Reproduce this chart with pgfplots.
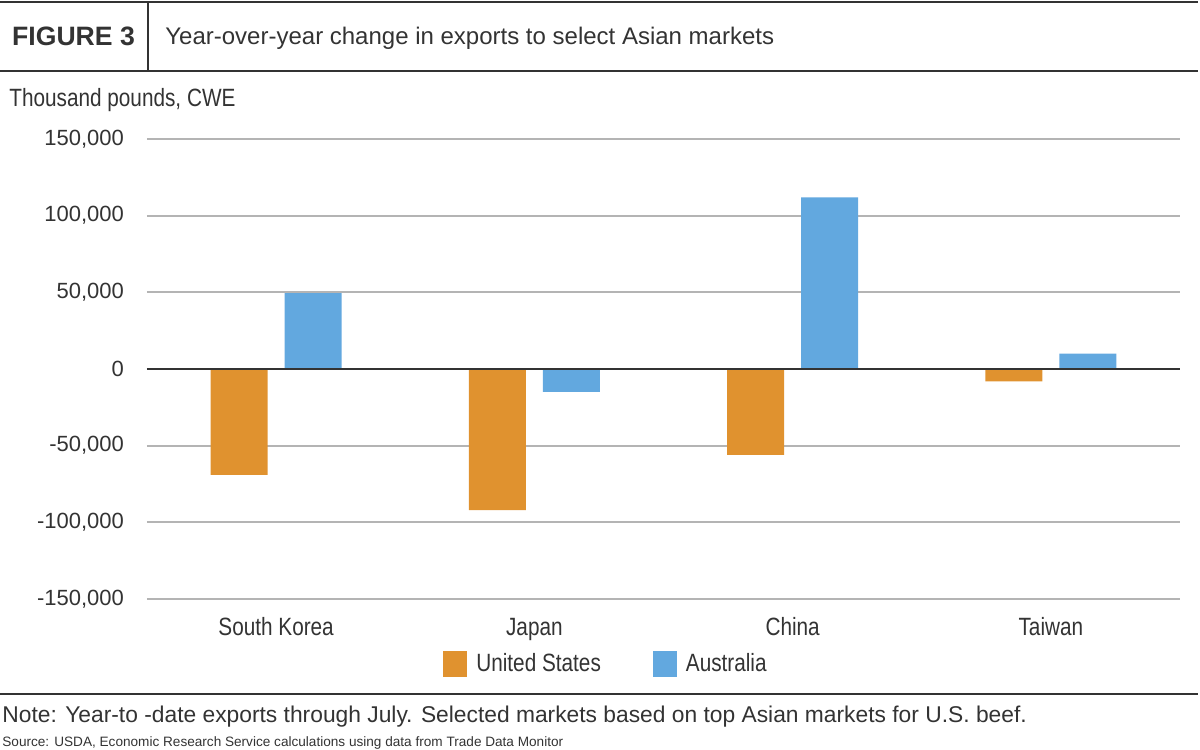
\documentclass[border=0pt]{standalone}
\usepackage{fontspec}
\setmainfont{Liberation Sans}
\newfontfamily\cf[FakeStretch=0.83]{Liberation Sans}
\usepackage{pgfplots}
\pgfplotsset{compat=1.18}
\definecolor{usor}{HTML}{E0922F}
\definecolor{aubl}{HTML}{62A8DF}
\definecolor{gridg}{HTML}{B4B4B4}
\definecolor{darkl}{HTML}{333333}
\begin{document}
\begin{tikzpicture}
\path[use as bounding box] (0,0) rectangle (600pt,375pt);
\begin{scope}[x=0.5pt,y=-0.5pt,shift={(0,375pt)}]
  \draw[darkl, line width=1.3pt] (0,2) -- (1198,2);
  \draw[darkl, line width=1.1pt] (0,71) -- (1198,71);
  \draw[darkl, line width=0.6pt] (148,2) -- (148,71);
  \draw[darkl, line width=1.1pt] (0,694) -- (1198,694);
  \node[anchor=base, inner sep=0pt, font=\fontsize{13.3}{16}\selectfont\bfseries, text=darkl] at (73.5,45.5) {FIGURE 3};
  \node[anchor=base west, inner sep=0pt, font=\fontsize{12}{14}\selectfont, text=darkl] at (165,45) {Year-over-year change in exports to select Asian markets};
  \node[anchor=base west, inner sep=0pt, font=\cf\fontsize{12.5}{15}\selectfont, text=darkl] at (9,107) {Thousand pounds, CWE};
  \node[anchor=base west, inner sep=0pt, font=\fontsize{11.4}{13}\selectfont, text=darkl] at (2,723) {Note: Year-to -date exports through July. Selected markets based on top Asian markets for U.S. beef.};
  \node[anchor=base west, inner sep=0pt, font=\fontsize{6.8}{8}\selectfont, text=darkl] at (2,746.5) {Source: USDA, Economic Research Service calculations using data from Trade Data Monitor};
\end{scope}
\begin{axis}[
  at={(73.5pt,75.5pt)}, anchor=south west,
  scale only axis, width=516.5pt, height=230pt,
  xmin=-0.5, xmax=3.5, ymin=-150000, ymax=150000,
  axis line style={draw=none},
  ybar=8.5pt, bar width=28.5pt,
  xtick={0,1,2,3},
  xticklabels={South Korea,Japan,China,Taiwan},
  ytick={-150000,-100000,-50000,0,50000,100000,150000},
  yticklabels={{-150,000},{-100,000},{-50,000},{0},{50,000},{100,000},{150,000}},
  scaled y ticks=false,
  major tick length=0pt,
  ymajorgrids, grid style={gridg, line width=1pt},
  yticklabel style={font=\fontsize{11}{13}\selectfont, text=darkl, anchor=east, xshift=-8pt},
  xticklabel style={font=\cf\fontsize{12.5}{15}\selectfont, text=darkl, anchor=base, yshift=-18.5pt},
  legend columns=2,
  legend style={at={(0.4453,-0.1413)}, anchor=center, draw=none, fill=none,
    font=\cf\fontsize{12.5}{15}\selectfont, text=darkl,
    /tikz/every even column/.append style={column sep=24pt},
    /tikz/every odd column/.append style={column sep=2.5pt}},
  legend image code/.code={\fill[#1] (0pt,-6.5pt) rectangle (12pt,6.5pt);},
  clip=false,
]
\addplot[fill=usor, draw=none] coordinates {(0,-69000) (1,-92000) (2,-56000) (3,-8000)};
\addplot[fill=aubl, draw=none] coordinates {(0,49500) (1,-15000) (2,112000) (3,10000)};
\legend{United States, Australia}
\draw[darkl, line width=1.2pt] (axis cs:-0.5,0) -- (axis cs:3.5,0);
\end{axis}
\end{tikzpicture}
\end{document}
